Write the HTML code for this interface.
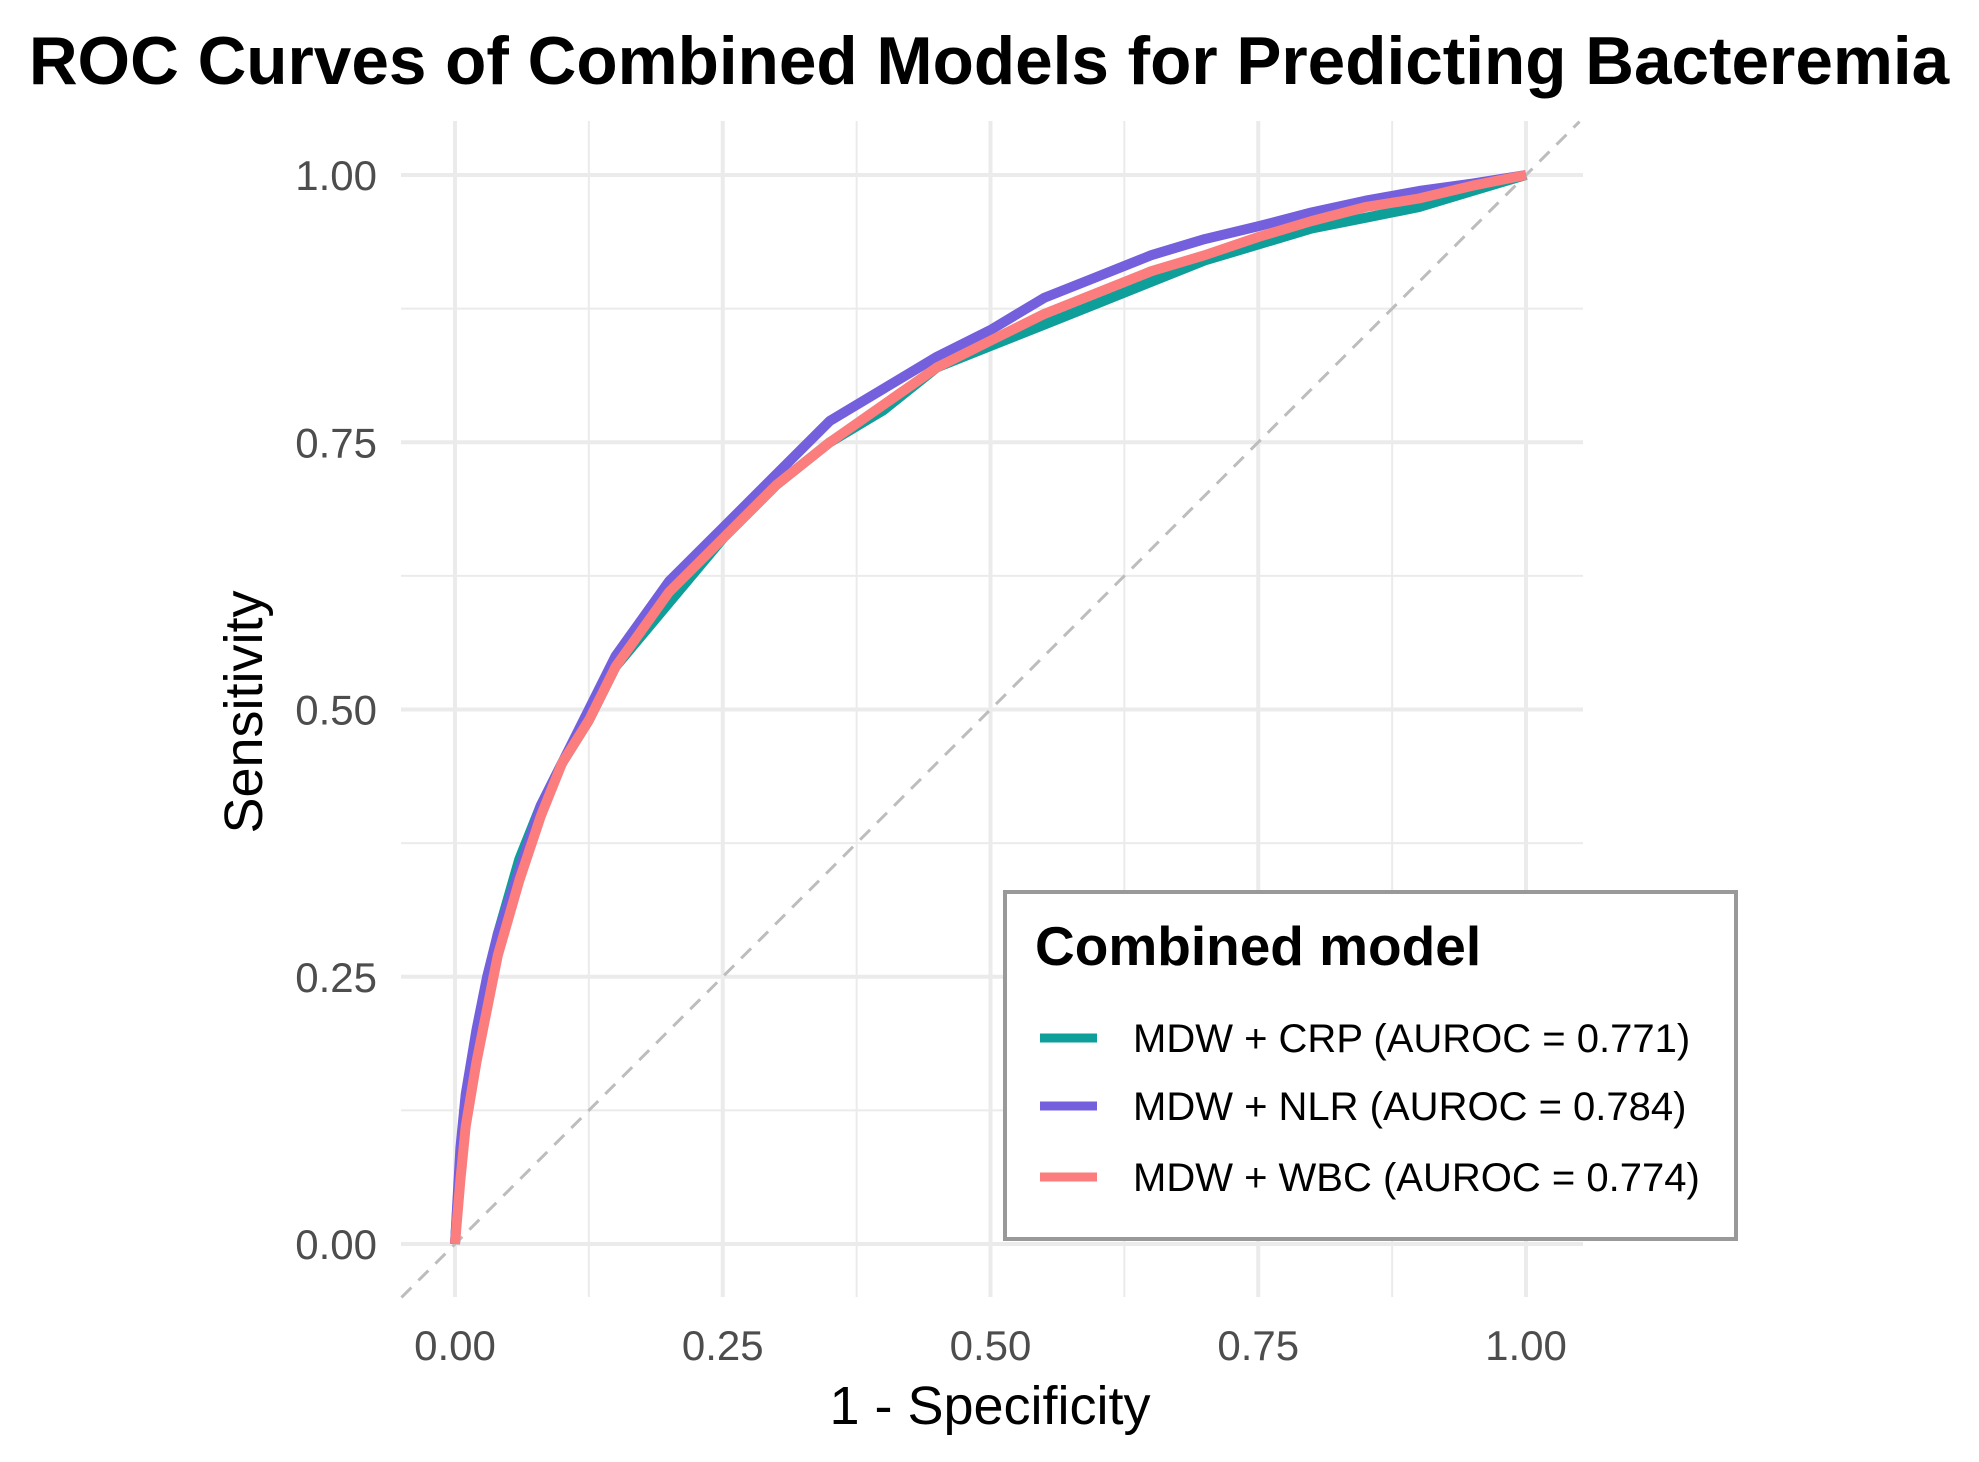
<!DOCTYPE html>
<html><head><meta charset="utf-8"><style>
body{margin:0;background:#fff;}
svg{display:block;font-family:"Liberation Sans",sans-serif;}
</style></head><body>
<svg id="chart" width="1979" height="1462" viewBox="0 0 1979 1462">
<text x="989" y="84" text-anchor="middle" font-size="67.5" font-weight="bold" fill="#000">ROC Curves of Combined Models for Predicting Bacteremia</text>
<g id="grid"></g>
<g id="curves"></g>
<text transform="translate(262,712) rotate(-90)" text-anchor="middle" font-size="54" fill="#000">Sensitivity</text>
<text x="990" y="1424" text-anchor="middle" font-size="54" fill="#000">1 - Specificity</text>
<g>
<rect x="1005" y="892" width="731" height="347" fill="#fff" stroke="#999" stroke-width="4"/>
<text x="1035" y="965" font-size="55" font-weight="bold" fill="#000">Combined model</text>
<g id="legend-items"></g>
</g>
</svg>
<script>
const xTicks=[0,0.25,0.5,0.75,1];
const yTicks=[0,0.25,0.5,0.75,1];
const tickLabels=["0.00","0.25","0.50","0.75","1.00"];
const seriesNames=["MDW + CRP (AUROC = 0.771)","MDW + NLR (AUROC = 0.784)","MDW + WBC (AUROC = 0.774)"];
const seriesColors=["#0e9f9a","#7460dd","#fb7d7d"];
const fprCRP=[0,0.005,0.01,0.02,0.03,0.04,0.06,0.08,0.1,0.125,0.15,0.2,0.25,0.3,0.35,0.4,0.45,0.5,0.55,0.6,0.65,0.7,0.75,0.8,0.85,0.9,0.95,1];
const tprCRP=[0,0.08,0.13,0.19,0.24,0.29,0.36,0.41,0.45,0.49,0.54,0.6,0.66,0.71,0.75,0.78,0.82,0.84,0.86,0.88,0.9,0.92,0.935,0.95,0.96,0.97,0.985,1];
const fprNLR=[0,0.005,0.01,0.02,0.03,0.04,0.06,0.08,0.1,0.125,0.15,0.2,0.25,0.3,0.35,0.4,0.45,0.5,0.55,0.6,0.65,0.7,0.75,0.8,0.85,0.9,0.95,1];
const tprNLR=[0,0.09,0.14,0.2,0.25,0.29,0.35,0.41,0.45,0.5,0.55,0.62,0.67,0.72,0.77,0.8,0.83,0.855,0.885,0.905,0.925,0.94,0.952,0.965,0.976,0.985,0.992,1];
const fprWBC=[0,0.005,0.01,0.02,0.03,0.04,0.06,0.08,0.1,0.125,0.15,0.2,0.25,0.3,0.35,0.4,0.45,0.5,0.55,0.6,0.65,0.7,0.75,0.8,0.85,0.9,0.95,1];
const tprWBC=[0,0.06,0.11,0.17,0.22,0.27,0.34,0.4,0.45,0.49,0.54,0.61,0.66,0.71,0.75,0.785,0.82,0.845,0.87,0.89,0.91,0.925,0.942,0.957,0.97,0.978,0.99,1];

const X=v=>455+v*1071, Y=v=>1244-v*1069;
const NS="http://www.w3.org/2000/svg";
function mk(tag,attrs,parent){const e=document.createElementNS(NS,tag);for(const k in attrs)e.setAttribute(k,attrs[k]);parent.appendChild(e);return e;}
const grid=document.getElementById('grid');
const x0=401,x1=1583,y0=121,y1=1297;
for(let i=0;i<xTicks.length-1;i++){
 const m=(xTicks[i]+xTicks[i+1])/2;
 const l=mk('line',{x1:X(m),x2:X(m),y1:y0,y2:y1,stroke:'#ebebeb','stroke-width':2},grid);
 
 
 const l2=mk('line',{y1:Y(m),y2:Y(m),x1:x0,x2:x1,stroke:'#ebebeb','stroke-width':2},grid);
 
 
}
xTicks.forEach((t,i)=>{
 const l=mk('line',{x1:X(t),x2:X(t),y1:y0,y2:y1,stroke:'#ebebeb','stroke-width':4},grid);
 
 
 const tx=mk('text',{x:X(t),y:1360,'text-anchor':'middle','font-size':42,fill:'#4d4d4d'},grid);
 tx.textContent=tickLabels[i];
 
 
});
yTicks.forEach((t,i)=>{
 const l=mk('line',{y1:Y(t),y2:Y(t),x1:x0,x2:x1,stroke:'#ebebeb','stroke-width':4},grid);
 
 
 const tx=mk('text',{x:377,y:Y(t)+15,'text-anchor':'end','font-size':42,fill:'#4d4d4d'},grid);
 tx.textContent=tickLabels[i];
 
 
});
const curves=document.getElementById('curves');
const d=mk('line',{x1:X(-0.05),y1:Y(-0.05),x2:X(1.05),y2:Y(1.05),stroke:'#bdbdbd','stroke-width':3,'stroke-dasharray':'14 10'},curves);


const series=[[fprCRP,tprCRP],[fprNLR,tprNLR],[fprWBC,tprWBC]];
const names=['curve-mdw-crp','curve-mdw-nlr','curve-mdw-wbc'];
series.forEach((s,i)=>{
 const pts=s[0].map((x,j)=>X(x).toFixed(1)+','+Y(s[1][j]).toFixed(1)).join(' ');
 const p=mk('polyline',{points:pts,fill:'none',stroke:seriesColors[i],'stroke-width':10,'stroke-linejoin':'round'},curves);
 
 
});
const li=document.getElementById('legend-items');
const ly=[1038,1106,1177];
seriesNames.forEach((n,i)=>{
 const k=mk('line',{x1:1040,x2:1097,y1:ly[i],y2:ly[i],stroke:seriesColors[i],'stroke-width':9},li);
 
 
 const t=mk('text',{x:1133,y:ly[i]+14,'font-size':40,fill:'#000'},li);
 t.textContent=n;
 
 
});
</script>
</body></html>
